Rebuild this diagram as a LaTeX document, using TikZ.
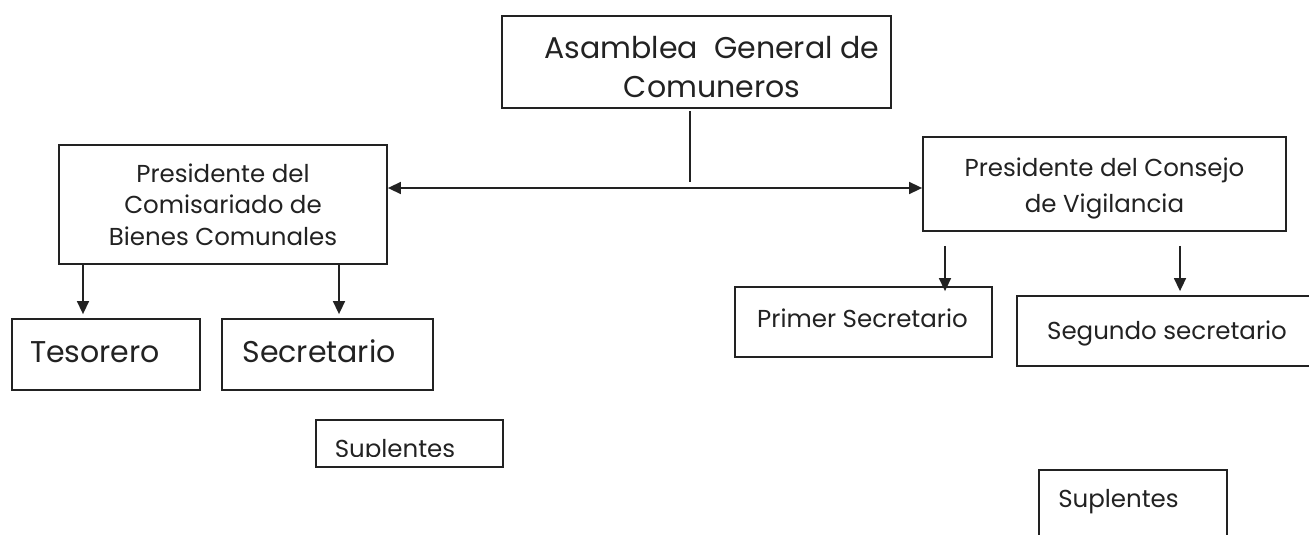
\documentclass[tikz,border=0pt]{standalone}
\usepackage{fontspec}
\setmainfont{Poppins}
\usetikzlibrary{arrows.meta,calc}
\definecolor{ink}{HTML}{222222}
\begin{document}
\begin{tikzpicture}[x=1pt,y=-1pt,
  box/.style={draw=ink, line width=1.8pt, inner sep=0pt},
  txt/.style={text=ink, inner sep=0pt, anchor=base, align=center},
  big/.style={font=\fontsize{30}{39}\selectfont},
  small/.style={font=\fontsize{24.5}{31.5}\selectfont},
  arr/.style={draw=ink, line width=1.5pt, -{Triangle[length=13pt,width=12pt]}},
  darr/.style={draw=ink, line width=1.5pt, {Triangle[length=13pt,width=12pt]}-{Triangle[length=13pt,width=12pt]}}]
\clip (0,0) rectangle (1309,535);
\fill[white] (0,0) rectangle (1309,535);
% boxes
\node[box, minimum width=389pt, minimum height=92pt] (asm) at (696.5,62) {};
\node[box, minimum width=328pt, minimum height=119pt] (pl) at (223,204.5) {};
\node[box, minimum width=363pt, minimum height=94pt] (pr) at (1104.5,184) {};
\node[box, minimum width=188pt, minimum height=71pt] (tes) at (106,354.5) {};
\node[box, minimum width=211pt, minimum height=71pt] (sec) at (327.5,354.5) {};
\node[box, minimum width=187pt, minimum height=47pt] (supl) at (409.5,443.5) {};
\node[box, minimum width=257pt, minimum height=70pt] (ps) at (863.5,322) {};
\node[box, minimum width=313pt, minimum height=70pt] (ss) at (1173.5,331) {};
\node[box, minimum width=188pt, minimum height=90pt] (supr) at (1133,515) {};
% texts (multi-line: anchor=base is the last line's baseline)
\node[txt, big] (asmt) at (712,97) {Asamblea\ \ General de\\Comuneros};
\node[txt, small] (plt) at (223,245) {Presidente del\\Comisariado de\\Bienes Comunales};
\node[txt, font=\fontsize{24.5}{36}\selectfont] (prt) at (1104.5,212) {Presidente del Consejo\\de Vigilancia};
\node[txt, big] (test) at (95,362) {Tesorero};
\node[txt, big] (sect) at (319,362) {Secretario};
\begin{scope}
\clip (300,400) rectangle (520,456);
\node[txt, small] (suplt) at (395,457) {Suplentes};
\end{scope}
\node[txt, small] (pst) at (862.5,327) {Primer Secretario};
\node[txt, small] (sst) at (1167,339) {Segundo secretario};
\node[txt, small] (suprt) at (1118.5,507) {Suplentes};
% connectors
\coordinate (junc) at (690,188);
\coordinate (vtop) at (690,111);
\coordinate (vbot) at (690,182);
\draw[ink, line width=1.5pt] (vtop) -- (vbot);
\draw[darr] (pl.east |- junc) -- (pr.west |- junc);
\coordinate (a1) at (83,0);
\coordinate (a2) at (339,0);
\coordinate (b1) at (945,0);
\coordinate (b2) at (1180,0);
\draw[arr, shorten >=4pt] (pl.south -| a1) -- (tes.north -| a1);
\draw[arr, shorten >=4pt] (pl.south -| a2) -- (sec.north -| a2);
\draw[arr, shorten <=14pt, shorten >=-5pt] (pr.south -| b1) -- (ps.north -| b1);
\draw[arr, shorten <=14pt, shorten >=4pt] (pr.south -| b2) -- (ss.north -| b2);
\end{tikzpicture}
\end{document}
